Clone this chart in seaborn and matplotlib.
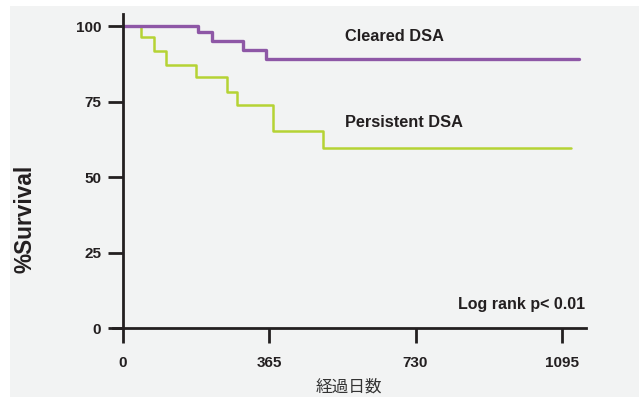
import pandas as pd
import matplotlib
matplotlib.use("Agg")
import matplotlib.pyplot as plt
from matplotlib.patches import Rectangle
import seaborn as sns

# Kaplan-Meier steps
cleared_days = [0, 188, 222, 299, 356, 1137]
cleared_surv = [100, 98, 95, 92, 89.2, 89.2]
persistent_days = [0, 46, 78, 108, 183, 259, 284, 374, 499, 1117]
persistent_surv = [100, 96.4, 91.7, 87.1, 83.2, 78.2, 73.8, 65.3, 59.5, 59.5]
x_ticks = [0, 365, 730, 1095]
y_ticks = [0, 25, 50, 75, 100]

sns.set_style("white")
plt.rcParams['font.family'] = ['Liberation Sans', 'Noto Sans CJK JP', 'DejaVu Sans']

cleared_df = pd.DataFrame({"day": cleared_days, "surv": cleared_surv})
persistent_df = pd.DataFrame({"day": persistent_days, "surv": persistent_surv})

fig = plt.figure(figsize=(6.39, 3.97), dpi=100, facecolor="white")
bg = Rectangle((10 / 639, 0), 629 / 639, 391 / 397,
               transform=fig.transFigure, facecolor="#f2f3f3",
               edgecolor="none", zorder=-10)
fig.patches.append(bg)
ax = fig.add_axes([0.1764, 0.1738, 0.9170 - 0.1764, 0.9647 - 0.1738])
ax.set_facecolor("none")

sns.lineplot(data=persistent_df, x="day", y="surv", ax=ax, color="#b5d334",
             linewidth=1.8, drawstyle="steps-post", estimator=None, zorder=2)
sns.lineplot(data=cleared_df, x="day", y="surv", ax=ax, color="#8e57a6",
             linewidth=2.4, drawstyle="steps-post", estimator=None, zorder=2.1)

ax.set_xlim(-25, 1155)
ax.set_ylim(0, 104)
ax.spines['left'].set_position(('data', 0))
ax.spines['right'].set_visible(False)
ax.spines['top'].set_visible(False)
for s in ['left', 'bottom']:
    ax.spines[s].set_linewidth(2)
    ax.spines[s].set_color("#231f20")

ax.set_xticks(x_ticks)
ax.set_yticks(y_ticks)
ax.tick_params(axis='both', direction='out', length=10.5, width=2, color="#231f20",
               labelsize=11, labelcolor="#231f20", bottom=True, left=True)
ax.tick_params(axis='x', pad=10)
ax.tick_params(axis='y', pad=5)
for lab in ax.get_xticklabels() + ax.get_yticklabels():
    lab.set_fontweight("bold")

ax.set_xlabel("経過日数", fontsize=12, color="#333333",
              family=['Noto Sans CJK JP', 'DejaVu Sans'], labelpad=6)
ax.set_ylabel("%Survival", fontsize=16.3, fontweight="bold", color="#231f20")
ax.yaxis.set_label_coords(-0.162, 0.347)

ax.text(554, 96.7, "Cleared DSA", fontsize=11.8, fontweight="bold",
        color="#231f20", ha="left", va="center")
ax.text(554, 68, "Persistent DSA", fontsize=11.8, fontweight="bold",
        color="#231f20", ha="left", va="center")
ax.text(1152, 7.9, "Log rank p< 0.01", fontsize=11.5, fontweight="bold",
        color="#231f20", ha="right", va="center")

fig.savefig("out.png", dpi=100)
